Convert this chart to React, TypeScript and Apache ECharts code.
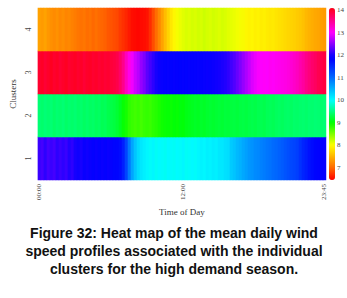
import React, { useEffect, useRef } from 'react';
import * as echarts from 'echarts';

// ---------- data ----------
const clusters = ['1', '2', '3', '4'];

const times: string[] = [];
for (let i = 0; i < 96; i++) {
  const h = Math.floor(i / 4);
  const m = (i % 4) * 15;
  times.push(`${String(h).padStart(2, '0')}:${String(m).padStart(2, '0')}`);
}

const shownTimeLabels = ['00:00', '12:00', '23:45'];
const colorbarTicks = [7, 8, 9, 10, 11, 12, 13, 14];
const valueMin = 6.45;
const valueMax = 14.1;

const cluster1 = [
  12.15, 12.2, 12.1, 12.2, 12.15, 12.2, 12.1, 12.15, 12.1, 12.15, 12.05, 12.1, 12.0,
  11.95, 12.0, 11.9, 11.95, 11.9, 11.85, 11.9, 11.85, 11.9, 11.85, 11.9, 11.85, 11.8, 11.8, 11.75,
  11.6, 11.3, 10.9, 10.6, 10.4, 10.25, 10.15, 10.1,
  10.05, 10.0, 10.05, 9.98, 10.02, 10.0, 9.97, 10.03, 10.0, 9.98, 10.02, 10.0, 10.05, 9.98,
  10.0, 10.03, 10.0, 10.05, 10.08, 10.05, 10.1, 10.08, 10.12, 10.1, 10.15, 10.15, 10.2, 10.22,
  10.35, 10.4, 10.47, 10.52, 10.58, 10.64, 10.7, 10.73, 10.78, 10.8, 10.85, 10.88, 10.92, 10.95,
  11.0, 11.03, 11.07, 11.12, 11.17, 11.22, 11.27, 11.3, 11.35, 11.45, 11.55, 11.62, 11.7, 11.75,
  11.8, 11.82, 11.85, 11.87,
];

const cluster2 = [
  9.45, 9.42, 9.46, 9.43, 9.45, 9.4, 9.44, 9.42, 9.45, 9.4, 9.43, 9.41, 9.44, 9.4, 9.42, 9.38,
  9.41, 9.38, 9.4, 9.36, 9.38,
  9.33, 9.35, 9.3, 9.28, 9.25, 9.2, 9.12,
  9.0, 8.92, 8.82, 8.78,
  8.75, 8.78, 8.74, 8.78, 8.8, 8.78, 8.83, 8.86,
  8.9, 8.95, 8.98, 9.0, 8.98, 9.02, 9.0, 9.05, 9.03, 9.08,
  9.1, 9.12, 9.15, 9.13, 9.17, 9.15, 9.18, 9.2, 9.18, 9.2, 9.22, 9.2, 9.23, 9.22,
  9.24, 9.25, 9.23, 9.26, 9.27, 9.25, 9.28, 9.3, 9.28, 9.31, 9.32, 9.3,
  9.34, 9.35, 9.33, 9.36, 9.38, 9.36, 9.39, 9.4, 9.38, 9.41, 9.4, 9.42, 9.43, 9.41, 9.44, 9.43,
  9.45, 9.44, 9.43, 9.45,
];

const cluster3 = [
  13.98, 14.02, 13.95, 14.0, 14.05, 13.98, 14.02, 13.96, 14.0, 14.04, 13.97, 14.0, 14.03, 13.98,
  14.01, 13.95, 14.0, 14.02, 13.97, 14.0, 13.96, 13.99, 13.95, 13.97, 13.93, 13.9,
  13.85, 13.72, 13.55, 13.3, 13.1, 12.95, 12.8, 12.7, 12.55, 12.45, 12.3, 12.2, 12.1, 12.0, 11.92,
  11.88, 11.85, 11.87, 11.83, 11.86, 11.84, 11.82, 11.85, 11.83, 11.86, 11.84, 11.85, 11.87, 11.85,
  11.88, 11.9, 11.88, 11.92,
  11.95, 11.98, 12.02, 12.05, 12.1,
  12.18, 12.25, 12.35, 12.45, 12.55, 12.65, 12.75, 12.85, 12.92, 12.98,
  13.0, 13.02, 13.0, 13.05, 13.03, 13.06, 13.08, 13.1, 13.12, 13.15,
  13.2, 13.25, 13.3, 13.38, 13.45, 13.55, 13.62, 13.7, 13.75, 13.82, 13.85, 13.9,
];

const cluster4 = [
  7.37, 7.33, 7.38, 7.3,
  7.25, 7.22, 7.26, 7.2, 7.23, 7.18, 7.2, 7.15, 7.12,
  7.08, 7.05, 7.08, 7.03, 7.05, 7.0, 7.04, 7.0, 6.98, 6.95,
  6.9, 6.88, 6.85, 6.82, 6.75, 6.7, 6.65,
  6.58, 6.52, 6.5, 6.48, 6.5, 6.52, 6.55,
  6.68, 6.85, 7.03, 7.2, 7.38, 7.55, 7.7, 7.85, 7.95, 8.03, 8.08,
  8.12, 8.15, 8.13, 8.17, 8.15, 8.18, 8.16, 8.2, 8.17, 8.15, 8.18, 8.16, 8.14, 8.17, 8.15, 8.12,
  8.1, 8.08, 8.05, 8.02, 8.0,
  7.95, 7.92, 7.94, 7.9, 7.92, 7.88, 7.9, 7.87, 7.85, 7.86, 7.83, 7.8,
  7.78, 7.75, 7.72, 7.7, 7.68, 7.65, 7.62, 7.58,
  7.52, 7.48, 7.45, 7.42, 7.4,
  7.36, 7.33,
];

const clusterRows = [cluster1, cluster2, cluster3, cluster4];

const captionLines = [
  'Figure 32: Heat map of the mean daily wind',
  'speed profiles associated with the individual',
  'clusters for the high demand season.',
];

// ---------- colour map (style) ----------
const hueAnchors: [number, number][] = [
  [6.45, 0], [7, 25], [8, 60], [9, 120], [10, 180], [11, 215], [12, 245], [13, 300], [14, 350], [14.1, 355],
];

function hueAt(v: number): number {
  for (let i = 0; i < hueAnchors.length - 1; i++) {
    const [v0, h0] = hueAnchors[i];
    const [v1, h1] = hueAnchors[i + 1];
    if (v <= v1) return h0 + ((v - v0) / (v1 - v0)) * (h1 - h0);
  }
  return hueAnchors[hueAnchors.length - 1][1];
}

function hsvHex(h: number): string {
  const hh = ((h % 360) + 360) % 360 / 60;
  const x = 1 - Math.abs((hh % 2) - 1);
  let r = 0, g = 0, b = 0;
  if (hh < 1) { r = 1; g = x; }
  else if (hh < 2) { r = x; g = 1; }
  else if (hh < 3) { g = 1; b = x; }
  else if (hh < 4) { g = x; b = 1; }
  else if (hh < 5) { r = x; b = 1; }
  else { r = 1; b = x; }
  const c = (n: number) => Math.round(n * 255).toString(16).padStart(2, '0');
  return '#' + c(r) + c(g) + c(b);
}

const STOPS = 78;
const mapColors: string[] = [];
for (let i = 0; i < STOPS; i++) {
  const v = valueMin + ((valueMax - valueMin) * i) / (STOPS - 1);
  mapColors.push(hsvHex(hueAt(v)));
}

const serif = '"Liberation Serif", "Times New Roman", serif';

export default function App() {
  const ref = useRef<HTMLDivElement>(null);

  useEffect(() => {
    if (!ref.current) return;
    const chart = echarts.init(ref.current, undefined, { renderer: 'svg' });

    const heatData: [number, number, number][] = [];
    clusterRows.forEach((row, y) => {
      row.forEach((v, x) => heatData.push([x, y, v]));
    });

    chart.setOption({
      animation: false,
      backgroundColor: '#ffffff',
      grid: [
        { left: 23, top: 8, width: 303, height: 172 },
        { left: 329, top: 8, width: 6, height: 172 },
      ],
      xAxis: [
        {
          type: 'category',
          gridIndex: 0,
          data: times,
          axisLine: { show: false },
          axisTick: { show: false },
          splitLine: { show: false },
          axisLabel: {
            rotate: 90,
            interval: (_i: number, v: string) => shownTimeLabels.includes(v),
            fontFamily: serif,
            fontSize: 7,
            color: '#444',
            margin: 4,
          },
          name: 'Time of Day',
          nameLocation: 'middle',
          nameGap: 22,
          nameTextStyle: { fontFamily: serif, fontSize: 9, color: '#333' },
        },
        { type: 'value', gridIndex: 1, show: false, min: 0, max: 1 },
      ],
      yAxis: [
        {
          type: 'category',
          gridIndex: 0,
          data: clusters,
          axisLine: { show: false },
          axisTick: { show: false },
          splitLine: { show: false },
          axisLabel: { rotate: 90, fontFamily: serif, fontSize: 8, color: '#444', margin: 5 },
          name: 'Clusters',
          nameLocation: 'middle',
          nameRotate: 90,
          nameGap: 13,
          nameTextStyle: { fontFamily: serif, fontSize: 9, color: '#333' },
        },
        {
          type: 'value',
          gridIndex: 1,
          min: valueMin,
          max: valueMax,
          position: 'right',
          axisLine: { show: false },
          axisTick: { show: false },
          splitLine: { show: false },
          axisLabel: {
            customValues: colorbarTicks,
            fontFamily: serif,
            fontSize: 7,
            color: '#444',
            margin: 3,
          },
        },
      ],
      visualMap: {
        type: 'continuous',
        seriesIndex: 0,
        min: valueMin,
        max: valueMax,
        show: true,
        calculable: false,
        hoverLink: false,
        left: 329,
        top: 8,
        itemWidth: 6,
        itemHeight: 172,
        padding: 0,
        inRange: { color: mapColors },
      },
      series: [
        {
          type: 'heatmap',
          xAxisIndex: 0,
          yAxisIndex: 0,
          data: heatData,
          progressive: 0,
        },
        { type: 'line', xAxisIndex: 1, yAxisIndex: 1, data: [] },
      ],
      graphic: [
        {
          type: 'text',
          x: 174,
          y: 224,
          style: {
            text: captionLines.join('\n'),
            fontFamily: '"Liberation Sans", Arial, sans-serif',
            fontWeight: 'bold',
            fontSize: 14,
            lineHeight: 18,
            fill: '#111',
            align: 'center',
          },
        },
      ],
    });

    return () => chart.dispose();
  }, []);

  return (
    <div
      ref={ref}
      style={{ position: 'fixed', left: 0, top: 0, width: 347, height: 298, background: '#fff' }}
    />
  );
}
